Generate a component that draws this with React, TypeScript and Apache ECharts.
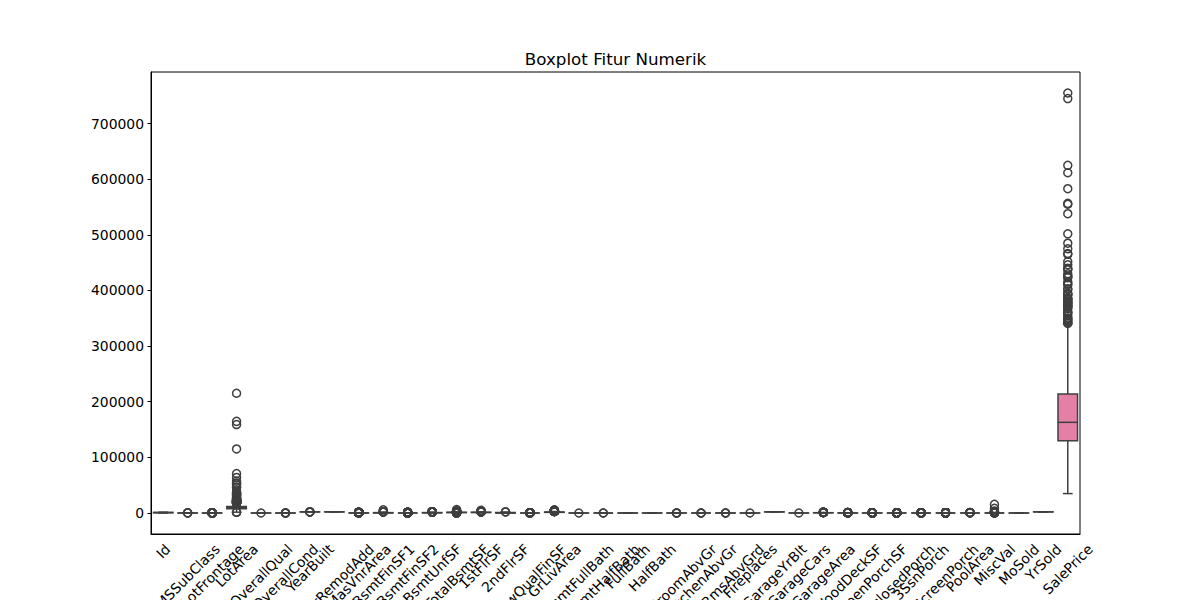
import React, { useEffect, useRef } from "react";
import * as echarts from "echarts";

const categories = [
  "Id", "MSSubClass", "LotFrontage", "LotArea", "OverallQual", "OverallCond", "YearBuilt",
  "YearRemodAdd", "MasVnrArea", "BsmtFinSF1", "BsmtFinSF2", "BsmtUnfSF", "TotalBsmtSF",
  "1stFlrSF", "2ndFlrSF", "LowQualFinSF", "GrLivArea", "BsmtFullBath", "BsmtHalfBath",
  "FullBath", "HalfBath", "BedroomAbvGr", "KitchenAbvGr", "TotRmsAbvGrd", "Fireplaces",
  "GarageYrBlt", "GarageCars", "GarageArea", "WoodDeckSF", "OpenPorchSF", "EnclosedPorch",
  "3SsnPorch", "ScreenPorch", "PoolArea", "MiscVal", "MoSold", "YrSold", "SalePrice",
];

const whiskerLow = [1, 20, 30, 1491, 2, 4, 1885, 1950, 0, 0, 0, 0, 105, 334, 0, 0, 334, 0, 0, 0, 0, 1, 1, 3, 0, 1900, 0, 0, 0, 0, 0, 0, 0, 0, 0, 1, 2006, 34900];
const q1 = [365.75, 20, 59, 7553.5, 5, 5, 1954, 1967, 0, 0, 0, 223, 795.75, 882, 0, 0, 1129.5, 0, 0, 1, 0, 2, 1, 5, 0, 1961, 1, 334.5, 0, 0, 0, 0, 0, 0, 0, 5, 2007, 129975];
const median = [730.5, 50, 69, 9478.5, 6, 5, 1973, 1994, 0, 383.5, 0, 477.5, 991.5, 1087, 0, 0, 1464, 0, 0, 2, 0, 3, 1, 6, 1, 1980, 2, 480, 0, 25, 0, 0, 0, 0, 0, 6, 2008, 163000];
const q3 = [1095.25, 70, 80, 11601.5, 7, 6, 2000, 2004, 166, 712.25, 0, 808, 1298.25, 1391.25, 728, 0, 1776.75, 1, 0, 2, 1, 3, 1, 7, 1, 2002, 2, 576, 168, 68, 0, 0, 0, 0, 0, 8, 2009, 214000];
const whiskerHigh = [1460, 120, 111, 17671, 10, 7, 2010, 2010, 412, 1767, 0, 1680, 2046, 2153, 1818, 0, 2730, 2, 0, 3, 2, 4, 1, 10, 2, 2010, 3, 936, 420, 168, 0, 0, 0, 0, 0, 12, 2010, 340000];

const outId: number[] = [];
const outMSSubClass = [160, 180, 190];
const outLotFrontage = [313, 182, 174, 168, 160, 153, 152, 150, 149, 144, 141, 140, 138, 137, 134, 130, 129, 124, 122, 121, 120, 118, 116, 115, 114, 113, 112, 24, 21];
const outLotArea = [215245, 164660, 159000, 115149, 70761, 63887, 57252, 53504, 53227, 50271, 46589, 45600, 39104, 36500, 35760, 35133, 34650, 32668, 32463, 31770, 29959, 28698, 27650, 26178, 25419, 25339, 25286, 25095, 24090, 23595, 23257, 22950, 22420, 21930, 21872, 21780, 21750, 21695, 21535, 21453, 21384, 21286, 21000, 20896, 20781, 20544, 20431, 19900, 19690, 19378, 19296, 19138, 18890, 18800, 18450, 18386, 18030, 17920, 17871, 17755, 1300, 1477];
const outOverallQual = [1];
const outOverallCond = [1, 2, 3, 8, 9];
const outYearBuilt = [1872, 1875, 1880, 1882];
const outYearRemodAdd: number[] = [];
const outMasVnrArea = [1600, 1378, 1170, 1129, 1115, 1047, 1031, 975, 922, 921, 894, 860, 816, 796, 788, 772, 766, 762, 760, 748, 731, 705, 680, 664, 653, 651, 650, 640, 632, 630, 616, 604, 600, 594, 584, 573, 571, 567, 564, 562, 554, 543, 541, 530, 528, 522, 519, 513, 510, 506, 500, 491, 481, 480, 472, 466, 465, 459, 450, 448, 443, 438, 436, 434, 425, 423, 420, 418, 416];
const outBsmtFinSF1 = [5644, 2260, 2188, 2096, 1904, 1880, 1810];
const outBsmtFinSF2 = [1474, 1127, 1120, 1085, 1080, 1063, 1061, 1057, 1031, 972, 906, 891, 869, 864, 852, 841, 830, 768, 750, 712, 691, 682, 630, 622, 608, 600, 590, 580, 551, 547, 539, 532, 531, 500, 495, 486, 480, 474, 469, 465, 441, 435, 420, 410, 402, 396, 382, 374, 352, 344, 334, 311, 294, 290, 287, 279, 276, 263, 258, 240, 228, 215, 210, 206, 193, 182, 180, 177, 168, 162, 150, 147, 142, 139, 128, 123, 117, 116, 108, 106, 102, 96, 93, 91, 81, 80, 68, 64, 41, 40, 35, 32, 28, 6];
const outBsmtUnfSF = [2336, 2153, 2121, 2046, 2042, 2002, 1969, 1935, 1907, 1905, 1836, 1800, 1795, 1777, 1774, 1753, 1734, 1710, 1694, 1689];
const outTotalBsmtSF = [6110, 3206, 3200, 3138, 3094, 2633, 2524, 2461, 2444, 2396, 2392, 2223, 2217, 2216, 2158, 2153, 2136, 2121, 2110, 2109, 2078, 2077, 2076, 2060, 0, 0, 0, 0, 0, 0, 0, 0, 0, 0];
const out1stFlrSF = [4692, 3228, 3138, 2898, 2633, 2524, 2515, 2444, 2411, 2402, 2392, 2364, 2259, 2223, 2217, 2207, 2196, 2158, 2156];
const out2ndFlrSF = [2065, 1872];
const outLowQualFinSF = [572, 528, 515, 514, 513, 481, 479, 420, 397, 392, 390, 384, 371, 360, 234, 232, 205, 156, 144, 120, 80, 53];
const outGrLivArea = [5642, 4676, 4476, 4316, 3627, 3608, 3493, 3447, 3395, 3279, 3238, 3228, 3222, 3194, 3140, 3112, 3086, 3082, 2978, 2945, 2872, 2868, 2822, 2810, 2792, 2784, 2775, 2758];
const outBsmtFullBath = [3];
const outBsmtHalfBath = [1, 2];
const outFullBath: number[] = [];
const outHalfBath: number[] = [];
const outBedroomAbvGr = [0, 5, 6, 8];
const outKitchenAbvGr = [0, 2, 3];
const outTotRmsAbvGrd = [11, 12, 14];
const outFireplaces = [3];
const outGarageYrBlt: number[] = [];
const outGarageCars = [4];
const outGarageArea = [1418, 1390, 1356, 1248, 1220, 1166, 1134, 1069, 1053, 1052, 1043, 1025, 1020, 1014, 995, 992, 968, 954, 950, 947];
const outWoodDeckSF = [857, 736, 728, 670, 668, 635, 586, 576, 574, 550, 536, 519, 517, 509, 505, 503, 500, 495, 486, 483, 482, 474, 468, 441, 440, 439, 433, 431, 426, 424];
const outOpenPorchSF = [547, 523, 502, 418, 406, 364, 341, 319, 312, 304, 291, 285, 282, 274, 267, 263, 260, 258, 252, 250, 247, 244, 240, 236, 234, 231, 228, 224, 211, 207, 205, 203, 198, 192, 189, 187, 184, 182, 176, 175, 174, 172];
const outEnclosedPorch = [552, 386, 330, 318, 301, 294, 293, 291, 286, 280, 272, 268, 264, 259, 252, 248, 244, 240, 236, 230, 228, 224, 220, 216, 212, 210, 205, 202, 200, 196, 192, 190, 189, 184, 180, 176, 174, 172, 170, 168, 164, 162, 158, 156, 150, 144, 140, 136, 130, 128, 126, 120, 116, 112, 102, 100, 96, 94, 84, 80, 77, 70, 68, 60, 54, 42, 40, 39, 37, 36, 34, 32, 30, 24, 20, 19];
const out3SsnPorch = [508, 407, 320, 304, 290, 245, 238, 216, 196, 182, 180, 176, 168, 162, 153, 144, 140, 130, 96, 23];
const outScreenPorch = [480, 440, 410, 396, 385, 374, 322, 312, 291, 288, 287, 280, 276, 273, 271, 266, 263, 260, 259, 255, 252, 234, 233, 230, 227, 225, 224, 222, 220, 216, 210, 200, 198, 197, 195, 192, 190, 189, 185, 184, 182, 180, 178, 176, 175, 171, 170, 168, 165, 163, 161, 160, 156, 155, 153, 150, 147, 144, 143, 142, 140, 138, 130, 128, 126, 122, 120, 116, 112, 111, 110, 100, 99, 95, 92, 90, 80, 64, 63, 60, 53, 40];
const outPoolArea = [738, 648, 576, 555, 519, 512, 480];
const outMiscVal = [15500, 8300, 3500, 2500, 2000, 1400, 1300, 1200, 1150, 800, 700, 650, 620, 600, 560, 500, 480, 450, 400, 350, 54];
const outMoSold: number[] = [];
const outYrSold: number[] = [];
const outSalePrice = [755000, 745000, 625000, 611657, 582933, 556581, 555000, 538000, 501837, 485000, 475000, 466500, 465000, 451950, 446261, 440000, 438780, 437154, 430000, 426000, 424870, 423000, 415298, 412500, 410000, 402861, 402000, 394617, 394432, 392500, 392000, 386250, 385000, 384500, 383970, 381000, 380000, 378500, 377500, 377426, 375000, 372500, 372402, 370878, 369900, 367294, 361919, 360000, 359100, 354000, 350000, 350000, 348000, 345000, 345000, 342643, 341000];

const outliers = [
  outId, outMSSubClass, outLotFrontage, outLotArea, outOverallQual, outOverallCond, outYearBuilt,
  outYearRemodAdd, outMasVnrArea, outBsmtFinSF1, outBsmtFinSF2, outBsmtUnfSF, outTotalBsmtSF,
  out1stFlrSF, out2ndFlrSF, outLowQualFinSF, outGrLivArea, outBsmtFullBath, outBsmtHalfBath,
  outFullBath, outHalfBath, outBedroomAbvGr, outKitchenAbvGr, outTotRmsAbvGrd, outFireplaces,
  outGarageYrBlt, outGarageCars, outGarageArea, outWoodDeckSF, outOpenPorchSF, outEnclosedPorch,
  out3SsnPorch, outScreenPorch, outPoolArea, outMiscVal, outMoSold, outYrSold, outSalePrice,
];

const yTickValues = [0, 100000, 200000, 300000, 400000, 500000, 600000, 700000];

const EDGE = "#3f3f3f";
const FONT = "DejaVu Sans";

function boxColor(i: number, n: number): string {
  if (i === n - 1) return "#e480a6";
  const hue = ((i / n) + 0.01) * 359;
  return `hsl(${hue.toFixed(1)}, 55%, 62%)`;
}

export default function App() {
  const ref = useRef<HTMLDivElement>(null);
  useEffect(() => {
    if (!ref.current) return;
    const chart = echarts.init(ref.current, null, { renderer: "svg" });
    const n = categories.length;
    const boxData = categories.map((_, i) => [i, whiskerLow[i], q1[i], median[i], q3[i], whiskerHigh[i]]);
    const outlierData: number[][] = [];
    outliers.forEach((arr, i) => arr.forEach((v) => outlierData.push([i, v])));

    chart.setOption({
      animation: false,
      grid: {
        left: 151, right: 120, top: 72, bottom: 66,
        show: true, borderColor: "#000", borderWidth: 1, backgroundColor: "transparent",
      },
      xAxis: {
        type: "category",
        data: categories,
        boundaryGap: true,
        axisLine: { onZero: false, lineStyle: { color: "#000", width: 1 } },
        axisTick: { alignWithLabel: true, length: 3.5, lineStyle: { color: "#000", width: 1 } },
        axisLabel: { show: false },
        splitLine: { show: false },
      },
      yAxis: {
        type: "value",
        min: -37750,
        max: 792750,
        axisLine: { show: true, lineStyle: { color: "#000", width: 1 } },
        axisTick: { show: true, length: 3.5, customValues: yTickValues, lineStyle: { color: "#000", width: 1 } },
        axisLabel: {
          customValues: yTickValues,
          formatter: (v: number) => String(v),
          color: "#000",
          fontFamily: FONT,
          fontSize: 13.9,
          margin: 7,
        },
        splitLine: { show: false },
      },
      series: [
        {
          type: "custom",
          data: boxData,
          encode: { x: 0, y: [1, 2, 3, 4, 5] },
          z: 2,
          renderItem: (_params: any, api: any) => {
            const i = api.value(0);
            const halfW = api.size([1, 0])[0] * 0.4;
            const pLo = api.coord([i, api.value(1)]);
            const yQ1 = api.coord([i, api.value(2)])[1];
            const yMed = api.coord([i, api.value(3)])[1];
            const yQ3 = api.coord([i, api.value(4)])[1];
            const yHi = api.coord([i, api.value(5)])[1];
            const cx = pLo[0];
            const yLo = pLo[1];
            const ls = { stroke: EDGE, lineWidth: 1.5 };
            return {
              type: "group",
              children: [
                { type: "line", shape: { x1: cx, y1: yQ1, x2: cx, y2: yLo }, style: ls },
                { type: "line", shape: { x1: cx, y1: yQ3, x2: cx, y2: yHi }, style: ls },
                { type: "line", shape: { x1: cx - halfW / 2, y1: yLo, x2: cx + halfW / 2, y2: yLo }, style: ls },
                { type: "line", shape: { x1: cx - halfW / 2, y1: yHi, x2: cx + halfW / 2, y2: yHi }, style: ls },
                {
                  type: "rect",
                  shape: { x: cx - halfW, y: yQ3, width: 2 * halfW, height: Math.max(yQ1 - yQ3, 0) },
                  style: { fill: boxColor(i, n), stroke: EDGE, lineWidth: 1.5 },
                },
                { type: "line", shape: { x1: cx - halfW, y1: yMed, x2: cx + halfW, y2: yMed }, style: ls },
              ],
            };
          },
        },
        {
          type: "scatter",
          data: outlierData,
          symbol: "circle",
          symbolSize: 8,
          z: 3,
          itemStyle: { color: "rgba(0,0,0,0)", borderColor: EDGE, borderWidth: 1.5, opacity: 1 },
        },
      ],
    });

    const canvas = document.createElement("canvas");
    const ctx = canvas.getContext("2d")!;
    ctx.font = `13.9px "${FONT}"`;
    const textH = 16;
    const labelTop = 534 + 7;
    const labels = categories.map((c, i) => {
      const x = chart.convertToPixel({ xAxisIndex: 0 }, i) as number;
      const w = ctx.measureText(c).width;
      const H = (w + textH) * Math.SQRT1_2;
      return {
        type: "text",
        x,
        y: labelTop + H / 2,
        rotation: Math.PI / 4,
        silent: true,
        style: {
          text: c,
          fill: "#000",
          font: `13.9px "${FONT}"`,
          align: "center",
          verticalAlign: "middle",
        },
      };
    });

    chart.setOption({
      graphic: [
        {
          type: "text",
          x: 615.5,
          y: 59,
          silent: true,
          style: {
            text: "Boxplot Fitur Numerik",
            fill: "#000",
            font: `16.7px "${FONT}"`,
            align: "center",
            verticalAlign: "middle",
          },
        },
        ...labels,
      ],
    });

    return () => chart.dispose();
  }, []);
  return <div ref={ref} style={{ position: "absolute", left: 0, top: 0, width: 1200, height: 600 }} />;
}
